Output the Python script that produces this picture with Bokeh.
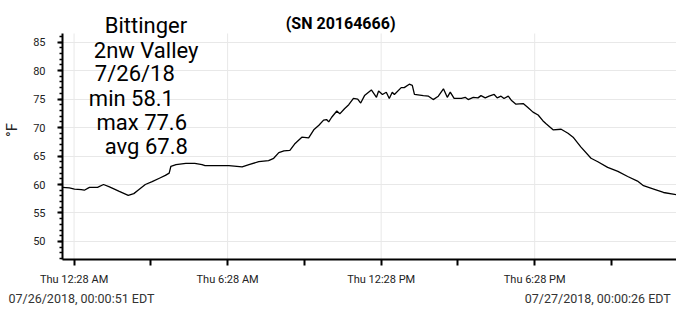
from bokeh.plotting import figure
from bokeh.models import Range1d, FixedTicker, SingleIntervalTicker, Label, LinearAxis
from bokeh.embed import file_html
from bokeh.resources import INLINE

# minutes since 07/26/2018 00:00 EDT
minutes = [0.85, 17, 29, 45, 52, 64, 83, 97, 111, 134, 155, 168, 178, 195, 211, 228, 242, 251, 255,
           267, 290, 311, 328, 335, 363, 391, 422, 438, 461, 484, 496, 508, 520, 534, 545, 562, 578,
           590, 602, 613, 620, 625, 632, 644, 651, 662, 672, 683, 693, 700, 709, 725, 737, 742, 751,
           760, 767, 774, 779, 795, 802, 814, 821, 826, 847, 859, 870, 882, 894, 903, 910, 919, 936,
           945, 952, 964, 975, 982, 992, 1001, 1013, 1020, 1029, 1036, 1046, 1053, 1064, 1081, 1092,
           1104, 1116, 1127, 1134, 1151, 1170, 1186, 1198, 1216, 1240, 1256, 1279, 1303, 1326, 1349,
           1363, 1387, 1410, 1440.43]
temps_f = [59.5, 59.4, 59.2, 59.1, 59.0, 59.5, 59.5, 60.0, 59.6, 58.8, 58.1, 58.4, 59.0, 60.0, 60.5,
           61.1, 61.6, 62.0, 63.2, 63.5, 63.7, 63.7, 63.5, 63.3, 63.3, 63.3, 63.1, 63.5, 64.0, 64.2,
           64.6, 65.6, 65.9, 66.0, 67.1, 68.3, 68.2, 69.6, 70.4, 71.3, 71.4, 71.0, 71.8, 72.9, 72.4,
           73.3, 74.0, 75.1, 75.0, 74.3, 75.6, 76.6, 75.3, 76.4, 75.8, 76.2, 75.1, 76.2, 75.8, 77.0,
           77.0, 77.6, 77.4, 75.8, 75.6, 75.5, 74.9, 75.5, 76.8, 75.3, 76.2, 75.1, 75.1, 75.3, 74.9,
           75.3, 75.2, 75.6, 75.2, 75.5, 75.8, 75.2, 75.5, 75.1, 75.5, 74.8, 74.1, 74.2, 73.5, 72.7,
           72.2, 71.2, 70.7, 69.6, 69.7, 69.0, 68.3, 66.6, 64.6, 64.0, 63.0, 62.3, 61.4, 60.6, 59.8,
           59.2, 58.6, 58.2]

tick_minutes = [28, 208, 388, 568, 748, 928, 1108, 1288]
tick_labels = ["Thu 12:28 AM", "", "Thu 6:28 AM", "", "Thu 12:28 PM", "", "Thu 6:28 PM", ""]
grid_minutes = [28, 388, 748, 1108]

title_text = "Bittinger"
info_lines = ["2nw Valley", "7/26/18", "min 58.1", "max 77.6", "avg 67.8"]
serial_text = "(SN 20164666)"
start_text = "07/26/2018, 00:00:51 EDT"
end_text = "07/27/2018, 00:00:26 EDT"

FONT = "Roboto"
Y_LO, Y_AXIS_TOP, Y_HI = 46.84, 86.5, 92.29

p = figure(width=676, height=310, output_backend="svg", toolbar_location=None,
           x_range=Range1d(0.85, 1440.43), y_range=Range1d(Y_LO, Y_HI),
           min_border_left=60, min_border_right=0, min_border_top=0, min_border_bottom=51)
p.outline_line_color = None
p.background_fill_color = "white"
p.border_fill_color = "white"

# vertical grid lines (only over the plotting area, not the title row)
p.xgrid.visible = False
p.segment(x0=grid_minutes, x1=grid_minutes, y0=[Y_LO] * len(grid_minutes),
          y1=[Y_AXIS_TOP] * len(grid_minutes), line_color="#e8e8e8", line_width=1,
          level="underlay")

p.line(minutes, temps_f, line_color="black", line_width=1.3)

xa = p.xaxis[0]
xa.ticker = FixedTicker(ticks=tick_minutes)
xa.major_label_overrides = {t: l for t, l in zip(tick_minutes, tick_labels)}
xa.major_tick_out = 6
xa.major_tick_in = 0
xa.major_tick_line_width = 2
xa.minor_tick_line_color = None
xa.axis_line_width = 2
xa.major_label_text_font = FONT
xa.major_label_text_font_size = "11px"
xa.major_label_text_color = "#222222"
xa.major_label_standoff = 7

ya = p.yaxis[0]
ya.bounds = (Y_LO, Y_AXIS_TOP)
ya.ticker = SingleIntervalTicker(interval=5, num_minor_ticks=5)
ya.major_tick_out = 5
ya.major_tick_in = 0
ya.major_tick_line_width = 2
ya.minor_tick_out = 3
ya.minor_tick_in = 0
ya.minor_tick_line_width = 1.5
ya.axis_line_width = 2
ya.major_label_text_font = FONT
ya.major_label_text_font_size = "11px"
ya.major_label_text_color = "#222222"
ya.major_label_standoff = 12
ya.axis_label = "°F"
ya.axis_label_text_font = FONT
ya.axis_label_text_font_size = "15px"
ya.axis_label_text_font_style = "normal"
ya.axis_label_text_color = "#222222"
ya.axis_label_standoff = 9

p.ygrid.grid_line_color = "#e8e8e8"

# title row and info block
p.add_layout(Label(x=100.0, y=87.9, text=title_text, text_font=FONT, text_font_size="22px",
                   text_color="black", text_baseline="alphabetic", text_align="left"))
p.add_layout(Label(x=524.3, y=88.2, text=serial_text, text_font=FONT, text_font_size="16px",
                   text_font_style="bold", text_color="black", text_baseline="alphabetic"))
info_pos = [(74.3, 83.52), (76.7, 79.43), (62.6, 75.14), (80.6, 70.93), (100.0, 66.67)]
for txt, (lx, ly) in zip(info_lines, info_pos):
    p.add_layout(Label(x=lx, y=ly, text=txt, text_font=FONT, text_font_size="22px",
                       text_color="black", text_baseline="alphabetic", text_align="left"))

# start / end time stamps as a second (tick-less) axis below
p.extra_x_ranges = {"px": Range1d(60, 676)}
date_ticks = [79, 597]
date_axis = LinearAxis(x_range_name="px", ticker=FixedTicker(ticks=date_ticks),
                       major_label_overrides={date_ticks[0]: start_text, date_ticks[1]: end_text})
date_axis.axis_line_color = None
date_axis.major_tick_line_color = None
date_axis.minor_tick_line_color = None
date_axis.major_tick_out = 0
date_axis.major_tick_in = 0
date_axis.major_label_standoff = 2
date_axis.major_label_text_font = FONT
date_axis.major_label_text_font_size = "12.5px"
date_axis.major_label_text_color = "#333333"
p.add_layout(date_axis, "below")

open("out.html", "w").write(file_html(p, INLINE))
